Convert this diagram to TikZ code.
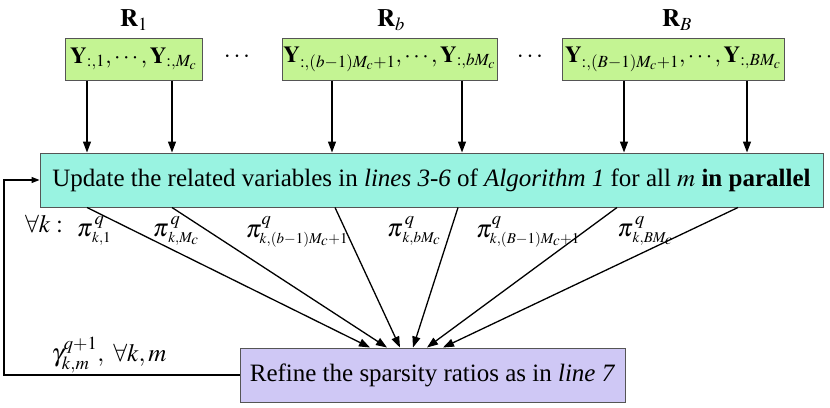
\documentclass[tikz,border=0pt]{standalone}
\usepackage{mathptmx}
\usepackage{fontspec}
\setmainfont{Liberation Serif}
\usetikzlibrary{positioning,arrows.meta}

\definecolor{grnfill}{RGB}{196,244,147}
\definecolor{aquafill}{RGB}{153,243,225}
\definecolor{lilacfill}{RGB}{207,200,245}
\definecolor{boxline}{RGB}{85,85,85}

\tikzset{
  blockbox/.style={draw=boxline, line width=1pt, inner sep=0pt, font=\fontsize{25}{30}\selectfont},
  groupbox/.style={blockbox, fill=grnfill, minimum height=42pt, font=\fontsize{23}{28}\selectfont},
  flowarrow/.style={-{Triangle[length=11pt,width=8pt]}, line width=1.3pt},
  looparrow/.style={-{Triangle[length=8pt,width=6pt]}, line width=1.3pt},
  mathlabel/.style={inner sep=0pt, font=\fontsize{25}{30}\selectfont},
}

\begin{document}
\begin{tikzpicture}[x=1pt,y=-1pt]
  \useasboundingbox (0,0) rectangle (830,407);
  % groups of columns
  \node[groupbox, minimum width=137pt] (grp1) at (133.5,59)
    {$\mathbf{Y}_{:,1},\cdots,\mathbf{Y}_{:,M_c}$};
  \node[groupbox, minimum width=215pt] (grpb) at (389.5,59)
    {$\mathbf{Y}_{:,(b-1)M_c+1},\cdots,\mathbf{Y}_{:,bM_c}$};
  \node[groupbox, minimum width=222pt] (grpB) at (673,59)
    {$\mathbf{Y}_{:,(B-1)M_c+1},\cdots,\mathbf{Y}_{:,BM_c}$};
  \node[mathlabel] (lab1) at (134,20) {$\mathbf{R}_1$};
  \node[mathlabel] (labb) at (391,20) {$\mathbf{R}_b$};
  \node[mathlabel] (labB) at (677,20) {$\mathbf{R}_B$};
  \node[mathlabel] (dots1) at (237,57) {$\cdots$};
  \node[mathlabel] (dots2) at (530,57) {$\cdots$};
  % the two steps
  \node[blockbox, fill=aquafill, minimum width=783pt, minimum height=54pt] (upd) at (431.5,180)
    {Update the related variables in \textit{lines 3-6} of \textit{Algorithm 1} for all $m$ \textbf{in parallel}};
  \node[blockbox, fill=lilacfill, minimum width=385pt, minimum height=54pt] (ref) at (432.5,375)
    {Refine the sparsity ratios as in \textit{line 7}};
  % arrows in and out of the update step
  \foreach \src/\xa/\xb/\xt [count=\i] in {grp1/87/87/370, grp1/172/172/387, grpb/332/335/400,
      grpb/462/458/413, grpB/624/617/427, grpB/747/738/443}{
    \coordinate (in\i) at (\xa,0);
    \coordinate (out\i) at (\xb,0);
    \coordinate (tip\i) at (\xt,0);
    \draw[flowarrow] (\src.south -| in\i) -- (upd.north -| in\i);
    \draw[flowarrow] (upd.south -| out\i) -- (ref.north -| tip\i);
  }
  % labels of the outputs
  \node[mathlabel] (fork) at (44,224) {$\forall k:$};
  \node[mathlabel] (pi1) at (94,231) {$\pi^{\,q}_{\scriptscriptstyle\,k,1}$};
  \node[mathlabel] (pi2) at (176,231) {$\pi^{\,q}_{\scriptscriptstyle\,k,M_c}$};
  \node[mathlabel] (pi3) at (297,232) {$\pi^{q}_{\scriptscriptstyle k,(b-1)M_c+1}$};
  \node[mathlabel] (pi4) at (414,231) {$\pi^{\,q}_{\scriptscriptstyle\,k,bM_c}$};
  \node[mathlabel] (pi5) at (528,232) {$\pi^{q}_{\scriptscriptstyle k,(B-1)M_c+1}$};
  \node[mathlabel] (pi6) at (645,231) {$\pi^{\,q}_{\scriptscriptstyle\,k,BM_c}$};
  % feedback
  \coordinate (back) at (4,0);
  \draw[looparrow] (ref.west) -- (ref.west -| back) |- (upd.west);
  \node[mathlabel] (gam) at (109,355) {$\gamma^{q+1}_{k,m},\ \forall k,m$};
\end{tikzpicture}
\end{document}
